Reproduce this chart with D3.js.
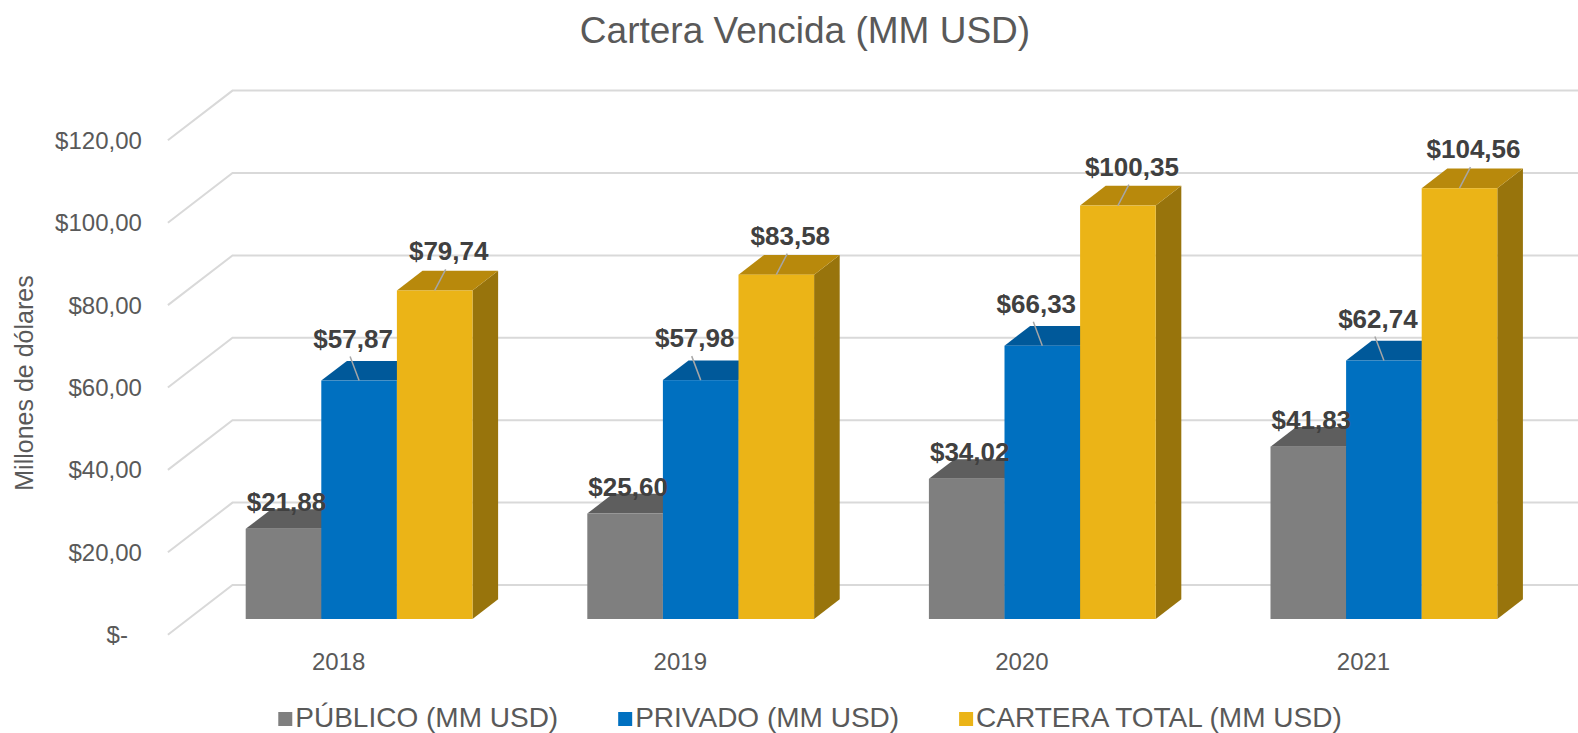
<!doctype html>
<html>
	<head>
		<meta charset="utf-8">
		<title>Cartera Vencida (MM USD)</title>
		<style>
			body{
				margin: 0;
				background-color: white;
			}
			svg text{
				font-family: "Liberation Sans", Arial, sans-serif;
			}
		</style>
	</head>
	<body>
		<svg id="chart" width="1578" height="733"></svg>
		<script src="https://cdn.jsdelivr.net/npm/d3@7"></script>
		<script>
			var categories = ["2018", "2019", "2020", "2021"];
			var seriesNames = ["PÚBLICO (MM USD)", "PRIVADO (MM USD)", "CARTERA TOTAL (MM USD)"];
			var publico = [21.88, 25.60, 34.02, 41.83];
			var privado = [57.87, 57.98, 66.33, 62.74];
			var carteraTotal = [79.74, 83.58, 100.35, 104.56];
			var yTicks = [0, 20, 40, 60, 80, 100, 120];

			var width = 1578, height = 733;
			var svg = d3.select("#chart");

			// colores: cara frontal, cara superior, cara lateral
			var colors = [
				{front: "#7f7f7f", top: "#5e5e5e", side: "#4c4c4c"},
				{front: "#0070c0", top: "#00599a", side: "#004a80"},
				{front: "#ebb417", top: "#b8890c", side: "#98740c"}
			];
			var series = [publico, privado, carteraTotal];

			// plano de las barras y profundidad (vista 3D de Excel)
			var slant = 1.3;
			var backDepth = 34, frontDepth = -15.7, barDepth = 19.7;
			var y = d3.scaleLinear().domain([0, 120]).range([619, 124.6]);
			var x0 = d3.scaleBand().domain(categories).range([188.3, 1554.7]);
			var x1 = d3.scaleBand().domain(d3.range(series.length)).range([57.4, 57.4 + 226.8]);

			function shift(pt, d){
				return [pt[0] + d * slant, pt[1] - d];
			}

			var loc = d3.formatLocale({decimal: ",", thousands: ".", grouping: [3], currency: ["$", ""]});
			var money = loc.format("$,.2f");
			function tickText(v){
				return v === 0 ? "$-" : money(v);
			}

			// titulo
			svg.append("text")
				.attr("x", 805).attr("y", 43)
				.attr("text-anchor", "middle")
				.style("font-size", "37px")
				.style("fill", "#595959")
				.text("Cartera Vencida (MM USD)");

			// lineas de cuadricula (pared del fondo + diagonal del piso)
			var x0Start = x0.range()[0];
			var grid = svg.append("g");
			yTicks.forEach(function(v){
				var f = shift([x0Start, y(v)], frontDepth);
				var b = shift([x0Start, y(v)], backDepth);
				grid.append("path")
					.attr("d", "M" + f + "L" + b + "L" + width + "," + b[1])
					.attr("fill", "none")
					.attr("stroke", "#d9d9d9")
					.attr("stroke-width", 2);
				svg.append("text")
					.attr("x", v === 0 ? f[0] - 40 : f[0] - 26)
					.attr("y", f[1])
					.attr("dy", "0.35em")
					.attr("text-anchor", "end")
					.style("font-size", "24px")
					.style("fill", "#595959")
					.text(tickText(v));
			});

			// etiquetas del eje x
			categories.forEach(function(c){
				var p = shift([x0(c) + x0.bandwidth() / 2, y(0)], frontDepth);
				svg.append("text")
					.attr("x", p[0]).attr("y", p[1] + 35)
					.attr("text-anchor", "middle")
					.style("font-size", "24px")
					.style("fill", "#595959")
					.text(c);
			});

			// titulo del eje y
			svg.append("text")
				.attr("transform", "translate(33,383) rotate(-90)")
				.attr("text-anchor", "middle")
				.style("font-size", "25px")
				.style("fill", "#595959")
				.text("Millones de dólares");

			// barras
			var bars = svg.append("g");
			var labels = [];
			categories.forEach(function(c, ci){
				series.forEach(function(s, si){
					var v = s[ci];
					var bx = x0(c) + x1(si), bw = x1.bandwidth();
					var yt = y(v), yb = y(0);
					var col = colors[si];
					var dx = barDepth * slant, dy = barDepth;
					bars.append("polygon")
						.attr("points", [[bx + bw, yt], [bx + bw + dx, yt - dy], [bx + bw + dx, yb - dy], [bx + bw, yb]].join(" "))
						.attr("fill", col.side);
					bars.append("polygon")
						.attr("points", [[bx, yt], [bx + bw, yt], [bx + bw + dx, yt - dy], [bx + dx, yt - dy]].join(" "))
						.attr("fill", col.top);
					bars.append("rect")
						.attr("x", bx).attr("y", yt)
						.attr("width", bw).attr("height", yb - yt)
						.attr("fill", col.front);
					labels.push({v: v, si: si, cx: bx + bw / 2, yt: yt});
				});
			});

			// etiquetas de datos con lineas guia
			var labelRule = [
				{dx: 3, dy: -18, leader: false},
				{dx: -6, dy: -33, leader: true},
				{dx: 14, dy: -30, leader: true}
			];
			labels.forEach(function(d){
				var r = labelRule[d.si];
				var lx = d.cx + r.dx, ly = d.yt + r.dy;
				if(r.leader){
					svg.append("line")
						.attr("x1", lx - 3).attr("y1", ly + 9)
						.attr("x2", d.cx).attr("y2", d.yt)
						.attr("stroke", "#a6a6a6")
						.attr("stroke-width", 1.5);
				}
				svg.append("text")
					.attr("x", lx).attr("y", ly)
					.attr("text-anchor", "middle")
					.style("font-size", "26px")
					.style("font-weight", "bold")
					.style("fill", "#404040")
					.text(money(d.v));
			});

			// leyenda
			var legend = svg.append("g");
			var gap = 60, sq = 14, pad = 3, cursor = 0;
			seriesNames.forEach(function(name, i){
				var g = legend.append("g");
				g.append("rect")
					.attr("width", sq).attr("height", sq)
					.attr("y", -sq - 1)
					.attr("fill", colors[i].front);
				var t = g.append("text")
					.attr("x", sq + pad)
					.style("font-size", "28px")
					.style("fill", "#595959")
					.text(name);
				var w = sq + pad + t.node().getComputedTextLength();
				g.attr("transform", "translate(" + cursor + ",0)");
				cursor += w + gap;
			});
			var total = cursor - gap;
			legend.attr("transform", "translate(" + (810 - total / 2) + ",727)");
		</script>
	</body>
</html>
